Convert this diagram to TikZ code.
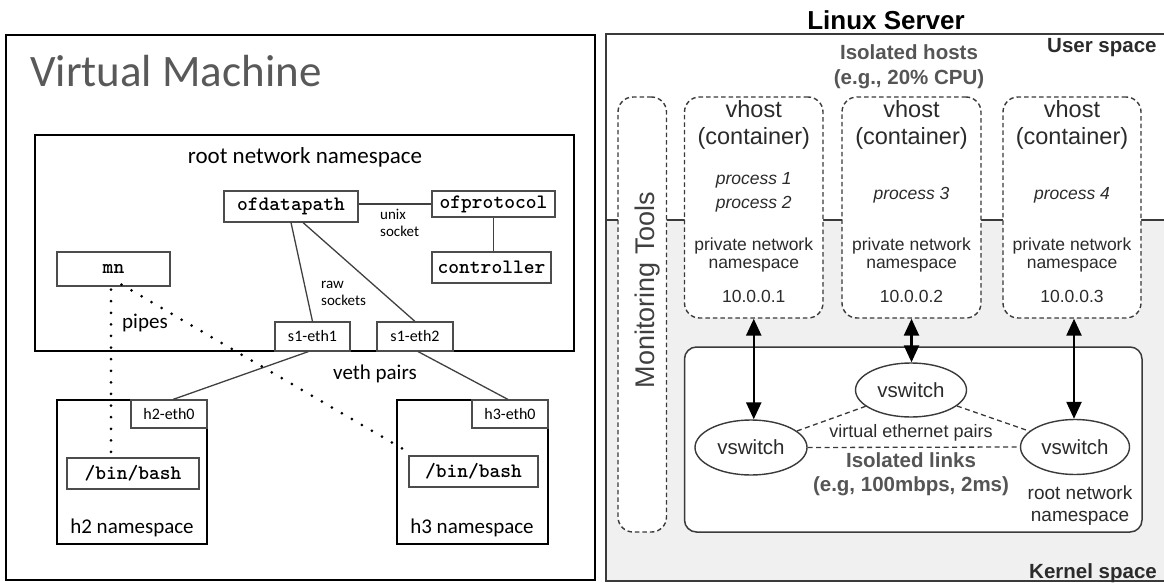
\documentclass[tikz,border=0pt]{standalone}
\usepackage{fontspec}
\setmainfont{Liberation Sans}
\newfontfamily\calib{Carlito}
\usetikzlibrary{arrows.meta,shapes.geometric}
\definecolor{vmgray}{HTML}{595959}
\definecolor{kfill}{HTML}{F0F0F0}
\definecolor{lsline}{HTML}{3A3A3A}
\definecolor{lstext}{HTML}{2B2B2B}
\definecolor{isotext}{HTML}{555555}
\tikzset{
  frame/.style={draw=black, line width=2.6pt, inner sep=0pt},
  pbox/.style={draw=black!70, line width=1.1pt, inner sep=0pt, text=black,
    font=\ttfamily\bfseries\fontsize{20.5}{22}\selectfont},
  ibox/.style={draw=black!70, line width=1.1pt, inner sep=0pt,
    font=\calib\fontsize{16}{18}\selectfont},
  link/.style={draw=black!75, line width=1.3pt},
  pipe/.style={draw=black, line width=3pt, line cap=round,
    dash pattern=on 0pt off 11.6pt},
  small/.style={font=\calib\fontsize{15}{18}\selectfont, align=left, inner sep=0pt},
  mid/.style={font=\calib\fontsize{21}{25}\selectfont, inner sep=0pt},
  dbox/.style={draw=lsline, line width=1.4pt, dash pattern=on 4.5pt off 3pt,
    rounded corners=15pt, fill=white, inner sep=0pt},
  sw/.style={ellipse, draw=lsline, line width=1.4pt, inner sep=0pt, fill=white,
    font=\fontsize{20.5}{24}\selectfont, text=lstext},
  vethd/.style={draw=lsline, line width=1.3pt, dash pattern=on 5pt off 3.5pt},
  dbl/.style={line width=2.4pt, draw=black, {Triangle[length=17pt,width=15pt]}-{Triangle[length=17pt,width=15pt]}},
  rt/.style={inner sep=0pt, text=lstext, anchor=base},
  big/.style={font=\fontsize{23.5}{28}\selectfont},
  mid2/.style={font=\fontsize{17.5}{21}\selectfont},
  proc/.style={font=\itshape\fontsize{17.5}{21}\selectfont},
  hd/.style={font=\bfseries\fontsize{20.5}{24}\selectfont, inner sep=0pt, anchor=base}
}
\begin{document}
\begin{tikzpicture}[x=1pt,y=-1pt]
\useasboundingbox (0,0) rectangle (1164,583);
\clip (0,0) rectangle (1164,583);

% ---------------- Virtual machine (left) ----------------
\node[frame, minimum width=589pt, minimum height=545pt] (vm) at (300.5,307.5) {};
\node[anchor=base west, inner sep=0pt, text=vmgray,
  font=\calib\fontsize{45}{50}\selectfont] (vmtitle) at (30,87) {Virtual Machine};

\node[frame, minimum width=539pt, minimum height=216pt] (rootns) at (304.5,243) {};
\node[anchor=base, inner sep=0pt, font=\calib\fontsize{23}{27}\selectfont]
  (rootlbl) at (305,163) {root network namespace};

\node[pbox, minimum width=134pt, minimum height=31pt] (ofdp) at (291,206.5) {ofdatapath};
\node[pbox, minimum width=123pt, minimum height=26pt] (ofpr) at (493.5,204) {ofprotocol};
\node[pbox, minimum width=119pt, minimum height=31pt] (ctrl) at (491.5,267.5) {controller};
\node[pbox, minimum width=113pt, minimum height=34pt] (mn) at (113.5,269) {mn};
\node[ibox, minimum width=75pt, minimum height=29pt] (s1e1) at (312.5,336.5) {s1-eth1};
\node[ibox, minimum width=76pt, minimum height=29pt] (s1e2) at (415,336.5) {s1-eth2};

\node[small, anchor=west] (unix) at (380,223) {unix\\[-1pt]socket};
\node[small, anchor=west] (raw) at (321,293) {raw\\[-1pt]sockets};
\node[mid, anchor=base west] (pipes) at (122,328) {pipes};
\node[mid, anchor=base west] (veth) at (333,379) {veth pairs};

\draw[link] (ofdp.east |- ofpr.west) -- (ofpr.west);
\draw[link] (ofpr.south) -- (ofpr.south |- ctrl.north);
\draw[link] (ofdp.south) -- (s1e1.north);
\draw[link] ([xshift=12pt]ofdp.south) -- (s1e2.north);

% host namespaces
\node[frame, minimum width=150pt, minimum height=144pt] (h2) at (132,472) {};
\node[frame, minimum width=151pt, minimum height=144pt] (h3) at (472.5,472) {};
\node[ibox, minimum width=76pt, minimum height=28pt] (h2e) at (169,414) {h2-eth0};
\node[ibox, minimum width=76pt, minimum height=28pt] (h3e) at (510,414) {h3-eth0};
\node[pbox, minimum width=132pt, minimum height=31pt] (bash2) at (133,473.5) {/bin/bash};
\node[pbox, minimum width=129pt, minimum height=31pt] (bash3) at (473.5,471.5) {/bin/bash};
\node[mid, anchor=base] (h2lbl) at (132,533) {h2 namespace};
\node[mid, anchor=base] (h3lbl) at (472,533) {h3 namespace};

\draw[link] ([xshift=-4pt]s1e1.south) -- ([xshift=4pt]h2e.north);
\draw[link] ([xshift=3pt]s1e2.south) -- ([xshift=-2pt]h3e.north);

% pipes from mn to the shells
\coordinate (p2) at (111,453);
\coordinate (p3) at (410,453);
\draw[pipe] ([xshift=-2.5pt,yshift=-3pt]mn.south) -- (p2);
\draw[pipe] ([xshift=8pt,yshift=2pt]mn.south) -- (p3);

% ---------------- Linux server (right) ----------------
\fill[kfill] (606,220) rectangle (1180,581);
\draw[lsline, line width=1.5pt] (606,34) rectangle (1180,581);
\draw[lsline, line width=1.5pt] (606,220) -- (1180,220);
\node[hd, text=black, font=\bfseries\fontsize{26}{30}\selectfont] (lsrv) at (886,30) {Linux Server};
\node[hd, text=lstext, anchor=base west] (usp) at (1047,53) {User space};
\node[hd, text=lstext, anchor=base west] (ksp) at (1029,578) {Kernel space};
\node[hd, text=isotext] (iso1) at (909,60) {Isolated hosts};
\node[hd, text=isotext] (iso2) at (909,85) {(e.g., 20\% CPU)};

\node[dbox, minimum width=48.5pt, minimum height=435pt] (mon) at (642.25,314.5) {};
\node[rt, rotate=90, text=black!75, font=\fontsize{27}{30}\selectfont] (monlbl) at (654,290) {Monitoring Tools};

\node[dbox, minimum width=138.5pt, minimum height=221pt] (vh1) at (753.75,207.5) {};
\node[dbox, minimum width=139pt, minimum height=221pt] (vh2) at (911.5,207.5) {};
\node[dbox, minimum width=138pt, minimum height=221pt] (vh3) at (1072,207.5) {};

\foreach \n/\cx/\ip in {vh1/753.75/10.0.0.1, vh2/911.5/10.0.0.2, vh3/1072/10.0.0.3}{
  \node[rt, big] (\n-a) at (\cx,118) {vhost};
  \node[rt, big] (\n-b) at (\cx,145) {(container)};
  \node[rt, mid2] (\n-c) at (\cx,250) {private network};
  \node[rt, mid2] (\n-d) at (\cx,268) {namespace};
  \node[rt, mid2] (\n-e) at (\cx,302) {\ip};
}
\node[rt, proc] (pr1) at (753.75,184) {process 1};
\node[rt, proc] (pr2) at (753.75,208) {process 2};
\node[rt, proc] (pr3) at (911.5,199) {process 3};
\node[rt, proc] (pr4) at (1072,199) {process 4};

\node[draw=lsline, line width=1.5pt, rounded corners=12pt, fill=white, inner sep=0pt,
  minimum width=457.5pt, minimum height=185pt] (kern) at (913.25,439.5) {};

\node[sw, minimum width=111pt, minimum height=54pt] (swt) at (911,390) {vswitch};
\node[sw, minimum width=112pt, minimum height=55pt] (swl) at (751,447.5) {vswitch};
\node[sw, minimum width=109pt, minimum height=55pt] (swr) at (1075,447) {vswitch};

\draw[vethd] (swl) -- (swt);
\draw[vethd] (swt) -- (swr);
\draw[vethd] (swl.east) -- (swr.west);

\node[rt, font=\fontsize{18}{21}\selectfont] (vep) at (911,437) {virtual ethernet pairs};
\node[hd, text=isotext] (il1) at (911,467) {Isolated links};
\node[hd, text=isotext] (il2) at (911,491) {(e.g, 100mbps, 2ms)};
\node[rt, font=\fontsize{19}{22}\selectfont] (rn1) at (1080,499) {root network};
\node[rt, font=\fontsize{19}{22}\selectfont] (rn2) at (1080,521.5) {namespace};

\draw[dbl] (vh1.south) -- (vh1.south |- swl.north);
\draw[dbl] (vh2.south) -- (vh2.south |- swt.north);
\draw[dbl] ([xshift=2pt]vh3.south) -- ([xshift=2pt]vh3.south |- swr.north);
\end{tikzpicture}
\end{document}
